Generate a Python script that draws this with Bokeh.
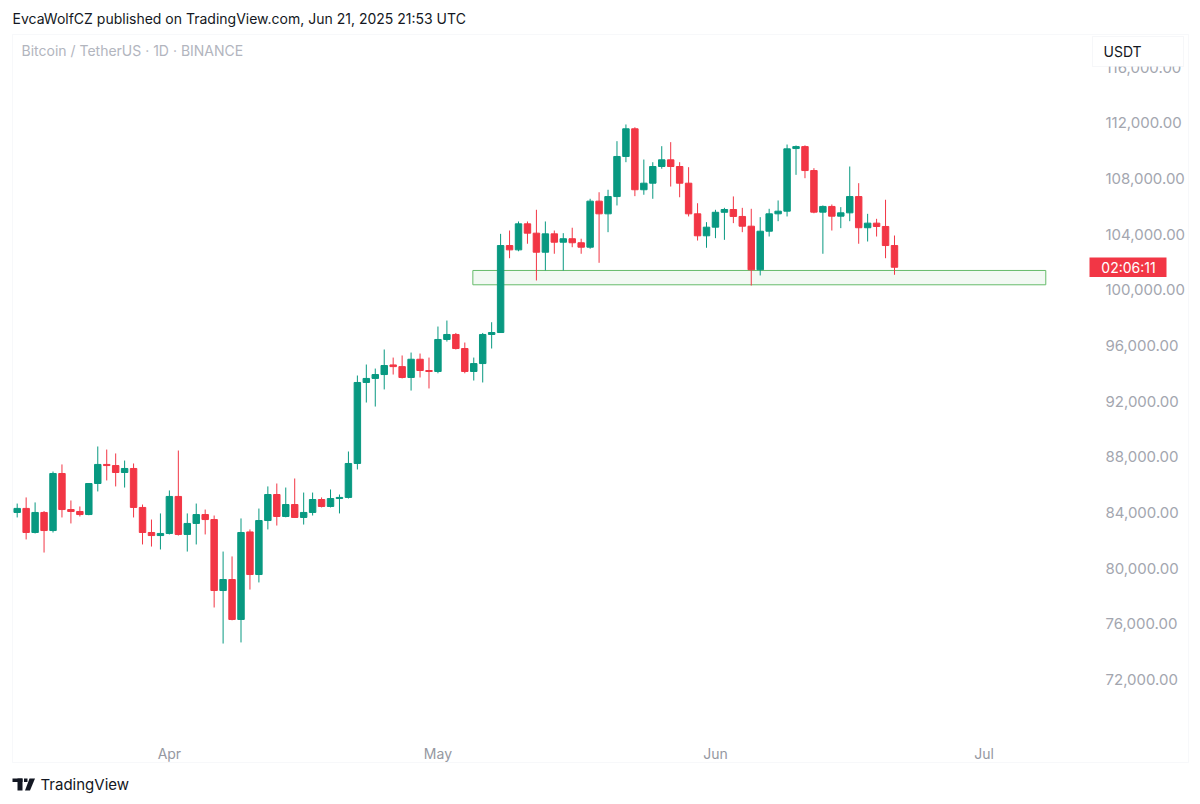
import pandas as pd
from bokeh.plotting import figure
from bokeh.models import (ColumnDataSource, Range1d, FixedTicker, NumeralTickFormatter,
                          Label, BoxAnnotation, PolyAnnotation)
from bokeh.embed import file_html
from bokeh.resources import INLINE

# ---------------- data (BTC/USDT, 1D, from 2025-03-15) ----------------
start_date = "2025-03-15"
opens = [84000, 84290, 82560, 84000, 82700, 86800, 84210, 84070, 83850, 86080,
         87450, 87370, 86870, 87160, 84360, 82560, 82340, 82490, 85150, 82420,
         83210, 83850, 83490, 78390, 79180, 76310, 82600, 79540, 83420, 85290,
         83710, 84570, 83640, 84000, 84930, 84430, 85000, 85080, 87520, 93340,
         93630, 93910, 94600, 94480, 93700, 95010, 94200, 94130, 96430, 96790,
         95780, 94130, 94700, 96790, 96930, 103180, 102870, 104740, 104070, 102700,
         104020, 103420, 103670, 103380, 103060, 106370, 105460, 106700, 109580, 111570,
         107190, 107660, 108860, 109340, 108860, 107660, 105460, 103880, 104500, 105570,
         105770, 105270, 104570, 101440, 104210, 105460, 105650, 110150, 110290, 108570,
         105580, 105990, 105290, 105530, 106700, 104460, 104790, 104550, 103180]
highs = [84640, 85080, 84720, 84100, 86940, 87450, 84860, 84430, 86100, 88740,
         88520, 88240, 87730, 87520, 84570, 83490, 83930, 85580, 88450, 83930,
         84640, 84210, 83780, 81190, 80840, 83570, 82780, 84280, 85870, 86080,
         85790, 86440, 85430, 85430, 85080, 85650, 85290, 88380, 93840, 94630,
         94340, 95710, 95130, 95280, 95490, 95420, 95130, 97360, 97790, 96900,
         96210, 95130, 96900, 97670, 104020, 104260, 104910, 104910, 105750, 104910,
         104260, 104070, 104460, 103670, 106540, 107010, 107190, 110680, 111880, 111680,
         109360, 109170, 110320, 110610, 109170, 108810, 106220, 104860, 105750, 105890,
         106710, 105890, 105820, 105220, 105820, 106420, 110440, 110370, 110380, 108740,
         106060, 106130, 105940, 108860, 107660, 105460, 105100, 106470, 103900]
lows = [83640, 82060, 82490, 81120, 82560, 83640, 83210, 83710, 83800, 85510,
        86300, 85870, 85790, 83640, 81700, 81550, 81340, 82420, 82340, 81190,
        81700, 82420, 77170, 74580, 76250, 74660, 78460, 78970, 82780, 83060,
        83650, 83600, 83130, 83780, 84360, 84360, 83930, 85000, 87090, 91900,
        91610, 92840, 93910, 93630, 92760, 93700, 92910, 94000, 96280, 95710,
        94000, 93480, 93340, 95780, 96900, 102270, 102770, 103310, 100670, 101390,
        102590, 101390, 103060, 102590, 102950, 101940, 104140, 106060, 109170, 106730,
        106830, 106540, 108700, 107420, 106650, 105270, 103540, 103020, 103710, 103590,
        104790, 104140, 100310, 101030, 103830, 104930, 105270, 108260, 108020, 105500,
        102590, 104260, 104430, 104930, 103310, 103470, 103830, 102270, 101080]
closes = [84290, 82560, 84000, 82700, 86800, 84210, 84070, 83850, 86080, 87450,
          87370, 86870, 87160, 84360, 82560, 82340, 82490, 85150, 82420, 83210,
          83850, 83490, 78390, 79180, 76310, 82560, 79540, 83420, 85290, 83710,
          84570, 83640, 84000, 84930, 84430, 85000, 85080, 87520, 93340, 93630,
          93910, 94560, 94480, 93700, 95010, 94200, 94130, 96430, 96790, 95780,
          94130, 94700, 96790, 96930, 103180, 102870, 104740, 104070, 102700, 104020,
          103420, 103670, 103380, 103060, 106370, 105460, 106700, 109580, 111570, 107190,
          107660, 108860, 109340, 108860, 107660, 105460, 103880, 104500, 105570, 105770,
          105270, 104570, 101440, 104210, 105460, 105650, 110130, 110290, 108570, 105580,
          105990, 105290, 105530, 106700, 104460, 104790, 104550, 103180, 101620]

price_ticks = [72000, 76000, 80000, 84000, 88000, 92000, 96000, 100000,
               104000, 108000, 112000, 116000]

# support zone drawn on the chart (day index / price)
zone_start, zone_end = 50.9, 114.9
zone_low, zone_high = 100360, 101390

header_text = "EvcaWolfCZ published on TradingView.com, Jun 21, 2025 21:53 UTC"
symbol_text = "Bitcoin / TetherUS \u00b7 1D \u00b7 BINANCE"
currency_text = "USDT"
countdown_text = "02:06:11"
brand_text = "TradingView"

# ---------------- build ----------------
UP, DOWN = "#089981", "#f23645"
n = len(closes)
xs = list(range(n))
colors = [UP if c >= o else DOWN for o, c in zip(opens, closes)]
tops = [max(o, c) for o, c in zip(opens, closes)]
bots = [min(o, c) for o, c in zip(opens, closes)]
src = ColumnDataSource(dict(x=xs, open=opens, high=highs, low=lows, close=closes,
                            top=tops, bottom=bots, color=colors))

dates = pd.date_range(start_date, periods=125, freq="D")
month_idx = [i for i, d in enumerate(dates) if d.day == 1]
month_lbl = {i: dates[i].strftime("%b") for i in month_idx}

FW, FH = 1192, 796
# pixel geometry of the scales: candle 0 centre at x=16.7px, 8.952 px/day;
# price = P0 - k*y_px
X0PX, DX = 16.7, 8.952
P0, K = 120789.0, 71.86

def xdata(px):
    return (px - X0PX) / DX

def ydata(py):
    return P0 - K * py

p = figure(width=FW, height=FH, output_backend="svg", toolbar_location=None, title=None,
           x_range=Range1d(xdata(0), xdata(FW)), y_range=Range1d(ydata(FH), ydata(0)),
           y_axis_location="right", min_border_left=0, min_border_right=0,
           min_border_top=0, min_border_bottom=0)
p.background_fill_color = "white"
p.border_fill_color = "white"
p.outline_line_color = None
p.grid.visible = False

# axes pinned inside the canvas
p.yaxis.fixed_location = xdata(1085)
p.xaxis.fixed_location = ydata(731)
p.yaxis.ticker = FixedTicker(ticks=price_ticks)
p.yaxis.formatter = NumeralTickFormatter(format="0,0.00")
p.yaxis.major_label_standoff = 14
p.xaxis.ticker = FixedTicker(ticks=month_idx)
p.xaxis.major_label_overrides = month_lbl
p.xaxis.major_label_standoff = 7
for ax in (p.xaxis, p.yaxis):
    ax.axis_line_color = None
    ax.major_tick_line_color = None
    ax.minor_tick_line_color = None
    ax.major_label_text_font = "Inter"
    ax.major_label_text_font_size = "15px"
    ax.major_label_text_color = "#a3a6af"
p.xaxis.major_label_text_font_size = "14px"
p.xaxis.major_label_text_color = "#9598a1"

# frame helpers: screen units measured from the canvas' bottom-left corner
def fy(py):
    return FH - py

# outer chart box
p.add_layout(BoxAnnotation(left=12, right=1188, top=fy(34), bottom=fy(762),
                           left_units="screen", right_units="screen",
                           top_units="screen", bottom_units="screen",
                           fill_alpha=0, line_color="#e6e8ee", line_width=1, level="underlay"))

# zone
p.quad(left=[zone_start], right=[zone_end], bottom=[zone_low], top=[zone_high],
       fill_color="#4caf50", fill_alpha=0.07, line_color="#66bb6a", line_width=1)

# candles
p.segment(x0="x", y0="low", x1="x", y1="high", line_color="color", line_width=1, source=src)
p.vbar(x="x", width=0.72, top="top", bottom="bottom", fill_color="color",
       line_color="color", line_width=1, source=src)

# header texts
p.add_layout(Label(x=12, y=fy(18), x_units="screen", y_units="screen", text=header_text,
                   text_font="Inter", text_font_size="14px", text_color="#131722",
                   text_baseline="middle"))
p.add_layout(Label(x=21, y=fy(50), x_units="screen", y_units="screen", text=symbol_text,
                   text_font="Inter", text_font_size="14px", text_color="#b2b5be",
                   text_baseline="middle"))

# currency box
p.add_layout(BoxAnnotation(left=1092, right=1183, top=fy(36), bottom=fy(66),
                           left_units="screen", right_units="screen",
                           top_units="screen", bottom_units="screen",
                           fill_color="white", fill_alpha=1, line_color="#e0e3eb", line_width=1))
p.add_layout(Label(x=1103, y=fy(51), x_units="screen", y_units="screen", text=currency_text,
                   text_font="Inter", text_font_size="14px", text_color="#131722",
                   text_baseline="middle"))

# countdown tag at last close
last = closes[-1]
half = K * 9.8
p.add_layout(BoxAnnotation(left=1089, right=1166, top=last + half, bottom=last - half,
                           left_units="screen", right_units="screen",
                           fill_color=DOWN, fill_alpha=1, line_color=None))
p.add_layout(Label(x=1128, y=last, x_units="screen", y_units="data", text=countdown_text,
                   text_font="Inter", text_font_size="14px", text_color="white",
                   text_align="center", text_baseline="middle"))

# brand logo + name
INK = "#131722"
for l, r, t, b in [(12, 22, 778, 781.5), (17, 22, 778, 790)]:
    p.add_layout(BoxAnnotation(left=l, right=r, top=fy(t), bottom=fy(b),
                               left_units="screen", right_units="screen",
                               top_units="screen", bottom_units="screen",
                               fill_color=INK, fill_alpha=1, line_color=None))
p.add_layout(PolyAnnotation(xs=[23.5, 27, 27, 23.5],
                            ys=[fy(778), fy(778), fy(781.5), fy(781.5)],
                            xs_units="screen", ys_units="screen",
                            fill_color=INK, fill_alpha=1, line_color=None))
p.add_layout(PolyAnnotation(xs=[29, 34.5, 29.5, 24.5],
                            ys=[fy(778), fy(778), fy(790), fy(790)],
                            xs_units="screen", ys_units="screen",
                            fill_color=INK, fill_alpha=1, line_color=None))
p.add_layout(Label(x=40, y=fy(784), x_units="screen", y_units="screen", text=brand_text,
                   text_font="Inter", text_font_size="15px", text_color=INK,
                   text_baseline="middle"))

open("out.html", "w").write(file_html(p, INLINE))
